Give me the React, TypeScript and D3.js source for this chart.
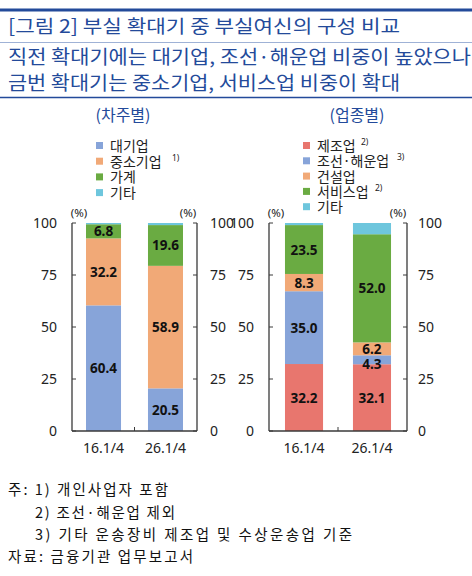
import React from "react";
import * as d3 from "d3";

const periods = ["16.1/4", "26.1/4"];

const borrowerSeries = ["대기업", "중소기업", "가계", "기타"];
const borrowerSup = ["", "1)", "", ""];
const borrowerValues: number[][] = [
  [60.4, 20.5],
  [32.2, 58.9],
  [6.8, 19.6],
  [0.6, 1.0],
];
const borrowerColors = ["#87a4d9", "#f1a977", "#6aab42", "#6ec6dd"];

const industrySeries = ["제조업", "조선·해운업", "건설업", "서비스업", "기타"];
const industrySup = ["2)", "3)", "", "2)", ""];
const industryValues: number[][] = [
  [32.2, 32.1],
  [35.0, 4.3],
  [8.3, 6.2],
  [23.5, 52.0],
  [1.0, 5.4],
];
const industryColors = ["#e8766e", "#87a4d9", "#f1a977", "#6aab42", "#6ec6dd"];

const yTicks = [0, 25, 50, 75, 100];

const titleText = "[그림 2] 부실 확대기 중 부실여신의 구성 비교";
const subtitleLines = [
  "직전 확대기에는 대기업, 조선·해운업 비중이 높았으나",
  "금번 확대기는 중소기업, 서비스업 비중이 확대",
];
const panelTitles = ["(차주별)", "(업종별)"];
const notes = [
  "주: 1) 개인사업자 포함",
  "2) 조선·해운업 제외",
  "3) 기타 운송장비 제조업 및 수상운송업 기준",
  "자료: 금융기관 업무보고서",
];

const KR = "'Noto Sans CJK KR', 'Noto Sans', sans-serif";
const NUM = "'Noto Sans', 'DejaVu Sans', sans-serif";
const BLUE = "#234a9a";

type PanelProps = {
  x0: number;
  x1: number;
  pi: number;
  po: number;
  series: string[];
  sups: string[];
  values: number[][];
  colors: string[];
  legendX: number;
  legendY: number;
  legendStep: number;
  supOffsets: number[];
  leftLabelX: number;
  rightLabelX: number;
};

function Panel(p: PanelProps) {
  const y = d3.scaleLinear().domain([0, 100]).range([431, 223]);
  const x = d3.scaleBand<string>().domain(periods).range([p.x0, p.x1]).paddingInner(p.pi).paddingOuter(p.po);
  const stackData = periods.map((per, i) => {
    const o: any = { period: per };
    p.series.forEach((s, k) => (o[s] = p.values[k][i]));
    return o;
  });
  const stacked = d3.stack<any>().keys(p.series)(stackData);
  const axisColor = "#3a3a3a";
  const midX = ((x(periods[0]) as number) + x.bandwidth() + (x(periods[1]) as number)) / 2;
  const last = p.series.length - 1;
  return (
    <g>
      {p.series.map((s, k) => (
        <g key={s}>
          <rect x={p.legendX} y={p.legendY + k * p.legendStep - 4} width={7} height={7} fill={p.colors[k]} />
          <text x={p.legendX + 14} y={p.legendY + k * p.legendStep + 5} fontFamily={KR} fontSize={14} fill="#222">
            {s}
          </text>
          {p.sups[k] && (
            <text
              x={p.legendX + 14 + p.supOffsets[k]}
              y={p.legendY + k * p.legendStep - 1}
              fontFamily={NUM}
              fontSize={8.5}
              fill="#222"
            >
              {p.sups[k]}
            </text>
          )}
        </g>
      ))}
      {stacked.map((layer, k) =>
        layer.map((d, i) => (
          <rect
            key={k + "-" + i}
            x={x(periods[i])}
            y={y(d[1])}
            width={x.bandwidth()}
            height={y(d[0]) - y(d[1])}
            fill={p.colors[k]}
          />
        ))
      )}
      {stacked.map((layer, k) =>
        layer.map((d, i) => {
          const v = d[1] - d[0];
          if (k === last) return null;
          const nudge = v < 5 ? 4 : 0;
          return (
            <text
              key={"t" + k + "-" + i}
              x={(x(periods[i]) as number) + x.bandwidth() / 2}
              y={y((d[0] + d[1]) / 2) + 5 + nudge}
              textAnchor="middle"
              fontFamily={NUM}
              fontWeight="bold"
              fontSize={13.5}
              fill="#111"
            >
              {v.toFixed(1)}
            </text>
          );
        })
      )}
      <line x1={p.x0} x2={p.x0} y1={y(100)} y2={y(0)} stroke={axisColor} strokeWidth={1.3} />
      <line x1={p.x1} x2={p.x1} y1={y(100)} y2={y(0)} stroke={axisColor} strokeWidth={1.3} />
      <line x1={p.x0} x2={p.x1} y1={y(0)} y2={y(0)} stroke={axisColor} strokeWidth={1.3} />
      <line x1={midX} x2={midX} y1={y(0)} y2={y(0) - 4} stroke={axisColor} strokeWidth={1} />
      {yTicks.map((t) => (
        <g key={t}>
          <line x1={p.x0} x2={p.x0 + 4} y1={y(t)} y2={y(t)} stroke={axisColor} strokeWidth={1} />
          <line x1={p.x1 - 4} x2={p.x1} y1={y(t)} y2={y(t)} stroke={axisColor} strokeWidth={1} />
          <text x={p.leftLabelX} y={y(t) + 5} textAnchor="end" fontFamily={NUM} fontSize={14} fill="#222">
            {t}
          </text>
          <text x={p.rightLabelX} y={y(t) + 5} textAnchor="start" fontFamily={NUM} fontSize={14} fill="#222">
            {t}
          </text>
        </g>
      ))}
      <text x={p.x0 + 7} y={y(100) - 6} textAnchor="middle" fontFamily={NUM} fontSize={11.5} fill="#222">
        (%)
      </text>
      <text x={p.x1 - 9} y={y(100) - 6} textAnchor="middle" fontFamily={NUM} fontSize={11.5} fill="#222">
        (%)
      </text>
      {periods.map((per) => (
        <text
          key={per}
          x={(x(per) as number) + x.bandwidth() / 2}
          y={453}
          textAnchor="middle"
          fontFamily={NUM}
          fontSize={14}
          fill="#222"
        >
          {per}
        </text>
      ))}
    </g>
  );
}

export default function App() {
  return (
    <svg width={472} height={576} style={{ position: "absolute", left: 0, top: 0, background: "#fff" }}>
      <rect width={472} height={576} fill="#fff" />
      <line x1={0} x2={472} y1={10} y2={10} stroke={BLUE} strokeWidth={3} />
      <text x={8} y={33} fontFamily={KR} fontSize={18.5} fill={BLUE} textLength={392} lengthAdjust="spacingAndGlyphs">
        {titleText}
      </text>
      <line x1={0} x2={472} y1={42.5} y2={42.5} stroke="#9fb2d6" strokeWidth={1} />
      <text x={8} y={64} fontFamily={KR} fontSize={19} fill={BLUE} textLength={463} lengthAdjust="spacingAndGlyphs">
        {subtitleLines[0]}
      </text>
      <text x={8} y={90} fontFamily={KR} fontSize={19} fill={BLUE} textLength={392} lengthAdjust="spacingAndGlyphs">
        {subtitleLines[1]}
      </text>
      <line x1={0} x2={472} y1={97.5} y2={97.5} stroke={BLUE} strokeWidth={1.3} />
      <text x={123} y={121} textAnchor="middle" fontFamily={KR} fontSize={16} fill={BLUE}>
        {panelTitles[0]}
      </text>
      <text x={357} y={121} textAnchor="middle" fontFamily={KR} fontSize={16} fill={BLUE}>
        {panelTitles[1]}
      </text>

      <Panel
        x0={72}
        x1={197}
        pi={0.435}
        po={0.226}
        series={borrowerSeries}
        sups={borrowerSup}
        values={borrowerValues}
        colors={borrowerColors}
        legendX={96}
        legendY={146}
        legendStep={15.7}
        supOffsets={[0, 62, 0, 0]}
        leftLabelX={57}
        rightLabelX={210}
      />
      <Panel
        x0={269}
        x1={407}
        pi={0.44}
        po={0.235}
        series={industrySeries}
        sups={industrySup}
        values={industryValues}
        colors={industryColors}
        legendX={303}
        legendY={146}
        legendStep={15.3}
        supOffsets={[44, 80, 0, 58, 0]}
        leftLabelX={254}
        rightLabelX={418}
      />

      <text x={8} y={495} fontFamily={KR} fontSize={14.5} fill="#111" textLength={160} lengthAdjust="spacing">
        {notes[0]}
      </text>
      <text x={35} y={518} fontFamily={KR} fontSize={14.5} fill="#111" textLength={140} lengthAdjust="spacing">
        {notes[1]}
      </text>
      <text x={35} y={540} fontFamily={KR} fontSize={14.5} fill="#111" textLength={317} lengthAdjust="spacing">
        {notes[2]}
      </text>
      <text x={8} y={562} fontFamily={KR} fontSize={14.5} fill="#111" textLength={185} lengthAdjust="spacing">
        {notes[3]}
      </text>
    </svg>
  );
}
